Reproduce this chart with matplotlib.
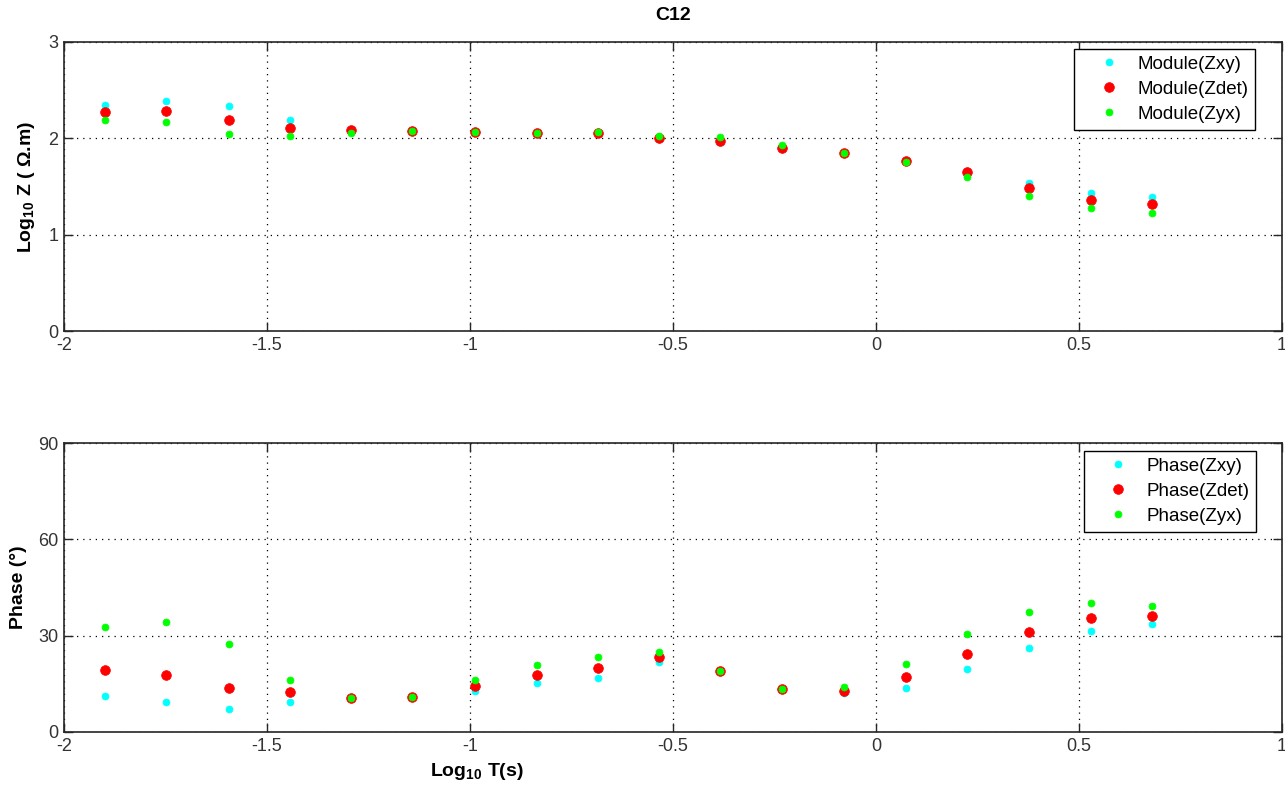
import matplotlib
matplotlib.use("Agg")
import matplotlib.pyplot as plt

plt.rcParams['font.family'] = ['Liberation Sans', 'DejaVu Sans']
plt.rcParams['mathtext.fontset'] = 'custom'
plt.rcParams['mathtext.rm'] = 'Liberation Sans'
plt.rcParams['mathtext.bf'] = 'Liberation Sans:bold'

# ---- data ----
log_period = [-1.899, -1.749, -1.594, -1.443, -1.293, -1.143, -0.988, -0.835, -0.685,
              -0.534, -0.384, -0.232, -0.079, 0.074, 0.224, 0.377, 0.530, 0.680]

mod_zxy = [2.35, 2.39, 2.34, 2.19, 2.08, 2.08, 2.07, 2.06, 2.06,
           1.99, 1.96, 1.91, 1.845, 1.765, 1.665, 1.535, 1.43, 1.39]
mod_zdet = [2.27, 2.28, 2.19, 2.11, 2.09, 2.08, 2.07, 2.06, 2.06,
            2.00, 1.975, 1.90, 1.845, 1.765, 1.65, 1.48, 1.36, 1.315]
mod_zyx = [2.19, 2.17, 2.04, 2.02, 2.06, 2.08, 2.07, 2.06, 2.065,
           2.02, 2.01, 1.93, 1.845, 1.755, 1.60, 1.405, 1.28, 1.23]

ph_zxy = [11.2, 9.2, 7.2, 9.2, 10.5, 11.0, 12.9, 15.2, 16.9,
          21.9, 19.0, 13.4, 12.0, 13.8, 19.6, 26.1, 31.5, 33.7]
ph_zdet = [19.3, 17.8, 13.8, 12.4, 10.5, 11.0, 14.4, 17.8, 20.0,
           23.5, 19.0, 13.4, 12.8, 17.2, 24.2, 31.0, 35.6, 36.1]
ph_zyx = [32.6, 34.2, 27.3, 16.2, 10.5, 11.0, 16.2, 20.9, 23.5,
          25.0, 19.1, 13.4, 13.9, 21.2, 30.4, 37.3, 40.3, 39.1]

x_ticks = [-2, -1.5, -1, -0.5, 0, 0.5, 1]
x_ticklabels = ['-2', '-1.5', '-1', '-0.5', '0', '0.5', '1']
mod_ticks = [0, 1, 2, 3]
ph_ticks = [0, 30, 60, 90]

title = 'C12'
mod_labels = ['Module(Zxy)', 'Module(Zdet)', 'Module(Zyx)']
ph_labels = ['Phase(Zxy)', 'Phase(Zdet)', 'Phase(Zyx)']

colors = ['#00FFFF', '#FF0000', '#00FF00']
sizes = [5.0, 7.0, 5.0]

W, H = 1285, 788
fig = plt.figure(figsize=(W / 100, H / 100), dpi=100)


def px_axes(left, top, right, bottom):
    return fig.add_axes([left / W, 1 - bottom / H, (right - left) / W, (bottom - top) / H])


ax1 = px_axes(64, 42, 1282, 331)
ax2 = px_axes(64, 443, 1282, 732)

tick_color = '#333333'


def style(ax, yticks, ylim):
    ax.set_xlim(-2, 1)
    ax.set_ylim(*ylim)
    ax.set_xticks(x_ticks)
    ax.set_xticklabels(x_ticklabels)
    ax.set_yticks(yticks)
    ax.set_yticklabels([str(t) for t in yticks])
    ax.tick_params(direction='in', length=6.5, width=1.0, top=True, right=True,
                   labelsize=13, labelcolor=tick_color, color='#262626', pad=4)
    for s in ax.spines.values():
        s.set_color('#262626')
        s.set_linewidth(1.2)
    ax.grid(True, color='black', linestyle=(0, (1, 4)), linewidth=0.9)
    ax.set_axisbelow(True)


series_mod = [mod_zxy, mod_zdet, mod_zyx]
series_ph = [ph_zxy, ph_zdet, ph_zyx]

for ax, series, labels in [(ax1, series_mod, mod_labels), (ax2, series_ph, ph_labels)]:
    for vals, c, ms, lab in zip(series, colors, sizes, labels):
        ax.plot(log_period, vals, linestyle='none', marker='o', markersize=ms,
                markerfacecolor=c, markeredgecolor=c, markeredgewidth=0.5, label=lab)

style(ax1, mod_ticks, (0, 3))
style(ax2, ph_ticks, (0, 90))

for ax, anchor in [(ax1, (0.978, 0.976)), (ax2, (0.979, 0.972))]:
    leg = ax.legend(loc='upper right', bbox_to_anchor=anchor, borderaxespad=0,
                    fancybox=False, framealpha=1, edgecolor='black', fontsize=13.5,
                    handlelength=2.95, handletextpad=0.05, labelspacing=0.42,
                    borderpad=0.36)
    leg.get_frame().set_linewidth(1.0)

ax1.set_title(title, fontsize=14, fontweight='bold', pad=16)
ax1.set_ylabel('Log$_{\\mathbf{10}}$ Z ( Ω.m)', fontsize=14, fontweight='bold', labelpad=8)
ax2.set_ylabel('Phase (°)', fontsize=14, fontweight='bold', labelpad=8)
fig.text(477 / W, 1 - 772 / H, 'Log$_{\\mathbf{10}}$ T(s)', fontsize=14, fontweight='bold',
         ha='center', va='center')

fig.savefig('out.png', dpi=100)
